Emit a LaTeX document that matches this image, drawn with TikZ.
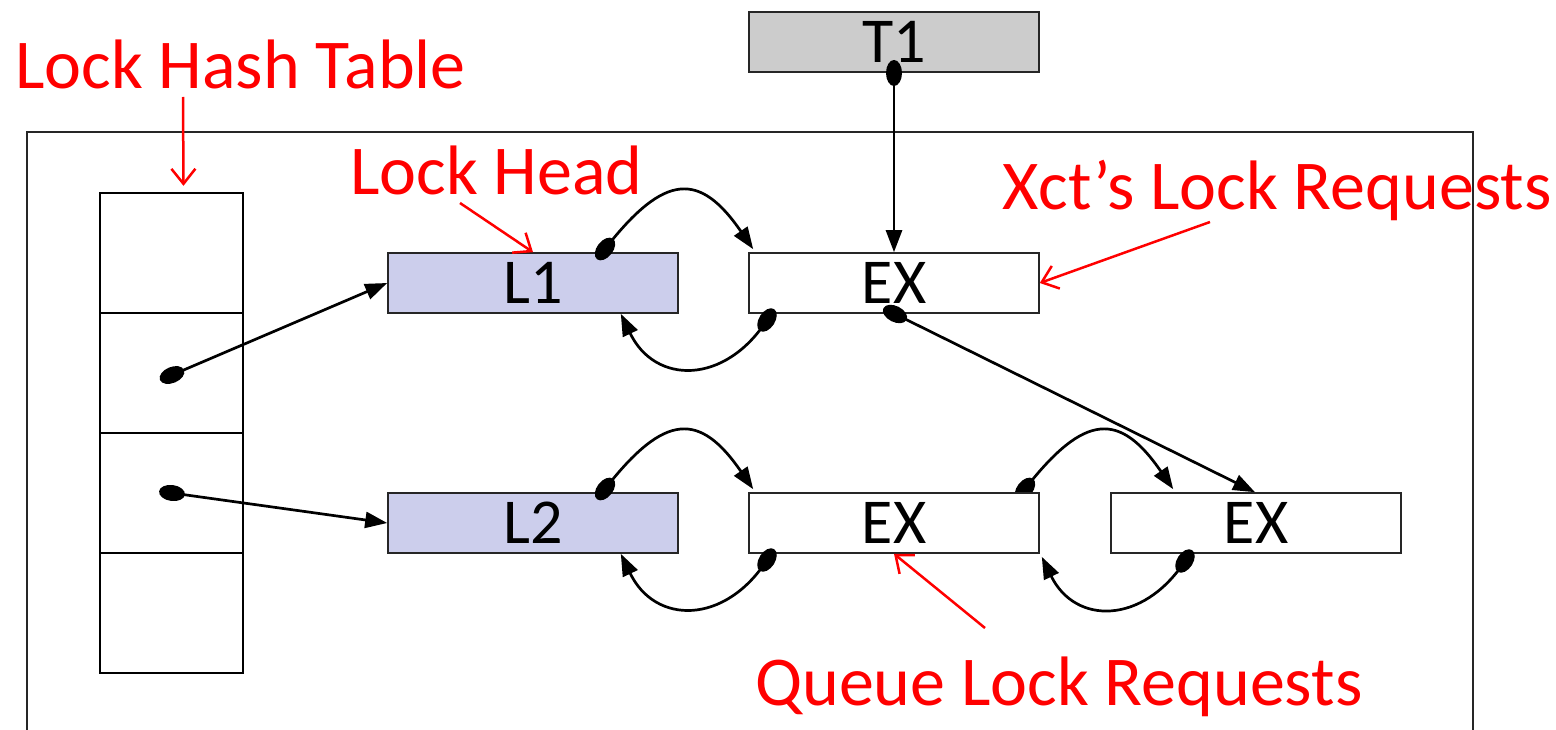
\documentclass[tikz,border=0pt]{standalone}
\usepackage{fontspec}
\setmainfont{Carlito}
\usetikzlibrary{arrows.meta,shapes.geometric,calc}
\definecolor{headfill}{RGB}{204,206,236}
\definecolor{xctfill}{RGB}{204,204,204}
\begin{document}
\begin{tikzpicture}[x=1pt,y=-1pt,
  box/.style={draw=black!85, line width=1.6pt, minimum width=290pt, minimum height=60pt,
              inner sep=0pt, font=\fontsize{64}{64}\selectfont},
  lockhead/.style={box, fill=headfill},
  request/.style={box, fill=white},
  cell/.style={draw, line width=2.4pt, minimum width=143pt, minimum height=120pt, inner sep=0pt},
  ptr/.style={ellipse, fill=black, minimum width=26pt, minimum height=16pt, inner sep=0pt},
  link/.style={line width=2.7pt, -{Triangle[length=22pt,width=16pt]}},
  callout/.style={red, line width=2.5pt, -{Straight Barb[length=15pt,width=24pt]}},
  tag/.style={red, anchor=base west, inner sep=0pt, font=\fontsize{70}{70}\selectfont}]

\useasboundingbox (0,0) rectangle (1556,730);

% enclosing frame (runs off the bottom)
\draw[line width=1.6pt, black!85] (27,730) -- (27,132) -- (1473,132) -- (1473,730);

% lock hash table buckets
\node[cell] (h1) at (171.5,253) {};
\node[cell] (h2) at (171.5,373) {};
\node[cell] (h3) at (171.5,493) {};
\node[cell] (h4) at (171.5,613) {};

% pointer partly hidden behind the second request box
\node[ptr, rotate=52] (px2b) at (1025,489) {};

% transaction, lock heads and lock requests
\node[request, fill=xctfill] (t1) at (894,42) {T1};
\node[lockhead] (l1) at (533,283) {L1};
\node[lockhead] (l2) at (533,523) {L2};
\node[request] (x1) at (894,283) {EX};
\node[request] (x2) at (894,523) {EX};
\node[request] (x3) at (1256,523) {EX};

% pointer origins
\node[ptr, rotate=22.6] (p1) at (172,375) {};
\node[ptr, rotate=-7.6] (p2) at (172,493) {};
\node[ptr, rotate=90] (pt) at (894,73) {};
\node[ptr, rotate=52] (pl1) at (605,249) {};
\node[ptr, rotate=57] (px1) at (767,320) {};
\node[ptr, rotate=-26.6] (pq) at (895,314) {};
\node[ptr, rotate=52] (pl2) at (605,489) {};
\node[ptr, rotate=57] (px2) at (767,560) {};
\node[ptr, rotate=57] (px3) at (1185,561) {};

% hash buckets to lock heads
\draw[link] (p1.center) -- (l1.west);
\draw[link] (p2.center) -- (l2.west);

% transaction's request chain
\draw[link] (pt.center) -- (x1.north);
\draw[link] (pq.center) -- ([xshift=-1pt]x3.north);

% doubly linked queue of L1
\draw[link] (pl1.center) .. controls (665,172) and (700,172) .. ([xshift=5pt,yshift=3pt]x1.north west);
\draw[link] (px1.center) .. controls (725,385) and (655,385) .. ([xshift=-58pt]l1.south east);

% doubly linked queue of L2
\draw[link] (pl2.center) .. controls (665,412) and (700,412) .. ([xshift=5pt,yshift=3pt]x2.north west);
\draw[link] (px2.center) .. controls (725,625) and (655,625) .. ([xshift=-58pt]l2.south east);
\draw[link] (px2b.center) .. controls (1085,412) and (1120,412) .. ([xshift=63pt,yshift=3pt]x3.north west);
\draw[link] (px3.center) .. controls (1143,625) and (1075,625) .. ([xshift=2pt,yshift=-3pt]x2.south east);

% annotations
\node[tag] (lht) at (15,89) {Lock Hash Table};
\node[tag] (lh) at (350,195) {Lock Head};
\node[tag] (xl) at (1002,210) {Xct’s Lock Requests};
\node[tag] (ql) at (755,705) {Queue Lock Requests};

\coordinate (lhtTail) at (183,97);
\coordinate (lhTail) at (460,203);
\coordinate (xlTail) at (1210,222);
\coordinate (qlTail) at (985,628);
\draw[callout] (lhtTail) -- ([xshift=12pt,yshift=6pt]h1.north);
\draw[callout] (lhTail) -- (l1.north);
\draw[callout] (xlTail) -- (x1.east);
\draw[callout] (qlTail) -- (x2.south);
\end{tikzpicture}
\end{document}
